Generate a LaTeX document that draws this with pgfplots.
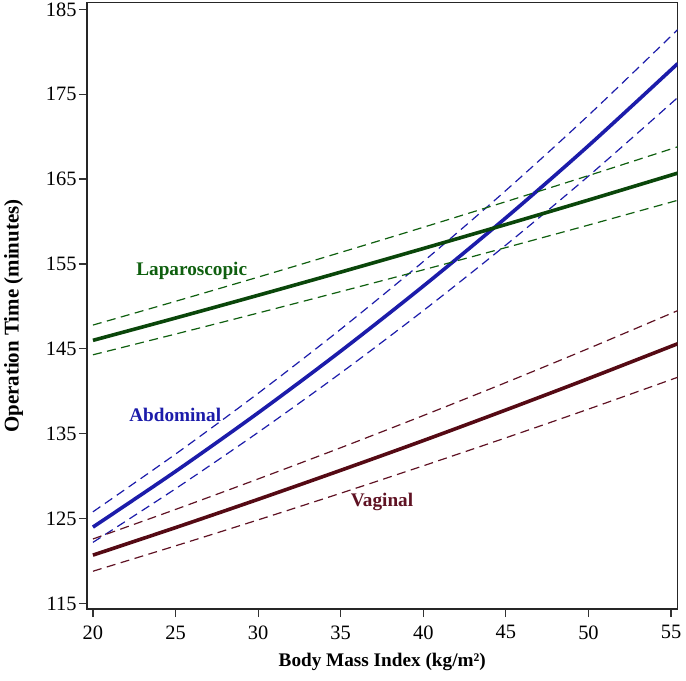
\documentclass[border=0pt]{standalone}
\usepackage{fontspec}
\setmainfont{Liberation Serif}
\usepackage{pgfplots}
\pgfplotsset{compat=1.18}
\definecolor{abd}{RGB}{28,28,170}
\definecolor{lap}{RGB}{15,95,15}
\definecolor{lapdark}{RGB}{10,70,10}
\definecolor{vag}{RGB}{95,18,35}
\definecolor{vagdark}{RGB}{85,10,20}
\begin{document}
\begin{tikzpicture}
\begin{axis}[
  scale only axis, width=590.5bp, height=606.3bp,
  xmin=19.64, xmax=55.39, ymin=114.35, ymax=185.78,
  xtick={20,25,...,55}, ytick={115,125,...,185},
  tick align=outside, xtick pos=bottom, ytick pos=left,
  major tick length=8bp,
  every tick/.style={line width=1.2bp, color=black!80},
  axis line style={line width=1.2bp, black!85},
  tick label style={font=\fontsize{20.5}{23}\selectfont},
  xticklabel style={yshift=-5bp},
  yticklabel style={xshift=1bp},
  /pgf/number format/assume math mode=true,
  label style={font=\fontsize{19.3}{22}\selectfont\bfseries},
  xlabel={Body Mass Index (kg/m²)},
  ylabel={Operation Time (minutes)},
  xlabel style={at={(axis description cs:0.5,-0.0875)},anchor=center},
  ylabel style={at={(axis description cs:-0.1245,0.483)},anchor=center,font=\fontsize{21}{24}\selectfont\bfseries},
  solid line/.style={line width=3.6bp, smooth},
  ci line/.style={line width=1.2bp, smooth, dash pattern=on 9bp off 5.5bp},
]
\coordinate (ll) at (rel axis cs:0,0);
\coordinate (ur) at (rel axis cs:1,1);
% Abdominal
\addplot[abd, solid line] coordinates {(20,124.00) (25,130.56) (30,137.46) (35,144.73) (40,152.39) (45,160.44) (50,168.93) (55.4,178.60)};
\addplot[abd, ci line] coordinates {(20,125.80) (25,132.60) (30,139.76) (35,147.31) (40,155.28) (45,163.66) (50,172.51) (55.4,182.60)};
\addplot[abd, ci line] coordinates {(20,122.20) (25,128.52) (30,135.16) (35,142.15) (40,149.50) (45,157.23) (50,165.35) (55.4,174.60)};
% Laparoscopic
\addplot[lapdark, solid line] coordinates {(20,146.00) (25,148.63) (30,151.31) (35,154.04) (40,156.82) (45,159.65) (50,162.53) (55.4,165.70)};
\addplot[lap, ci line] coordinates {(20,147.80) (25,150.60) (30,153.45) (35,156.36) (40,159.32) (45,162.34) (50,165.41) (55.4,168.80)};
\addplot[lap, ci line] coordinates {(20,144.30) (25,146.74) (30,149.22) (35,151.75) (40,154.31) (45,156.93) (50,159.58) (55.4,162.50)};
% Vaginal
\addplot[vagdark, solid line] coordinates {(20,120.70) (25,123.94) (30,127.27) (35,130.69) (40,134.19) (45,137.80) (50,141.50) (55.4,145.60)};
\addplot[vag, ci line] coordinates {(20,122.60) (25,126.08) (30,129.67) (35,133.35) (40,137.14) (45,141.03) (50,145.04) (55.4,149.50)};
\addplot[vag, ci line] coordinates {(20,118.80) (25,121.79) (30,124.85) (35,127.99) (40,131.22) (45,134.52) (50,137.90) (55.4,141.65)};
\node[text=lap, font=\fontsize{19.3}{22}\selectfont\bfseries] at (axis cs:25.98,154.18) {Laparoscopic};
\node[text=abd, font=\fontsize{19.3}{22}\selectfont\bfseries] at (axis cs:24.98,137.2) {Abdominal};
\node[text=vag, font=\fontsize{19.3}{22}\selectfont\bfseries] at (axis cs:37.5,126.97) {Vaginal};
\end{axis}
\pgfresetboundingbox
\path ([shift={(-87bp,-72bp)}]ll) rectangle ([shift={(8.5bp,2.7bp)}]ur);
\end{tikzpicture}
\end{document}
